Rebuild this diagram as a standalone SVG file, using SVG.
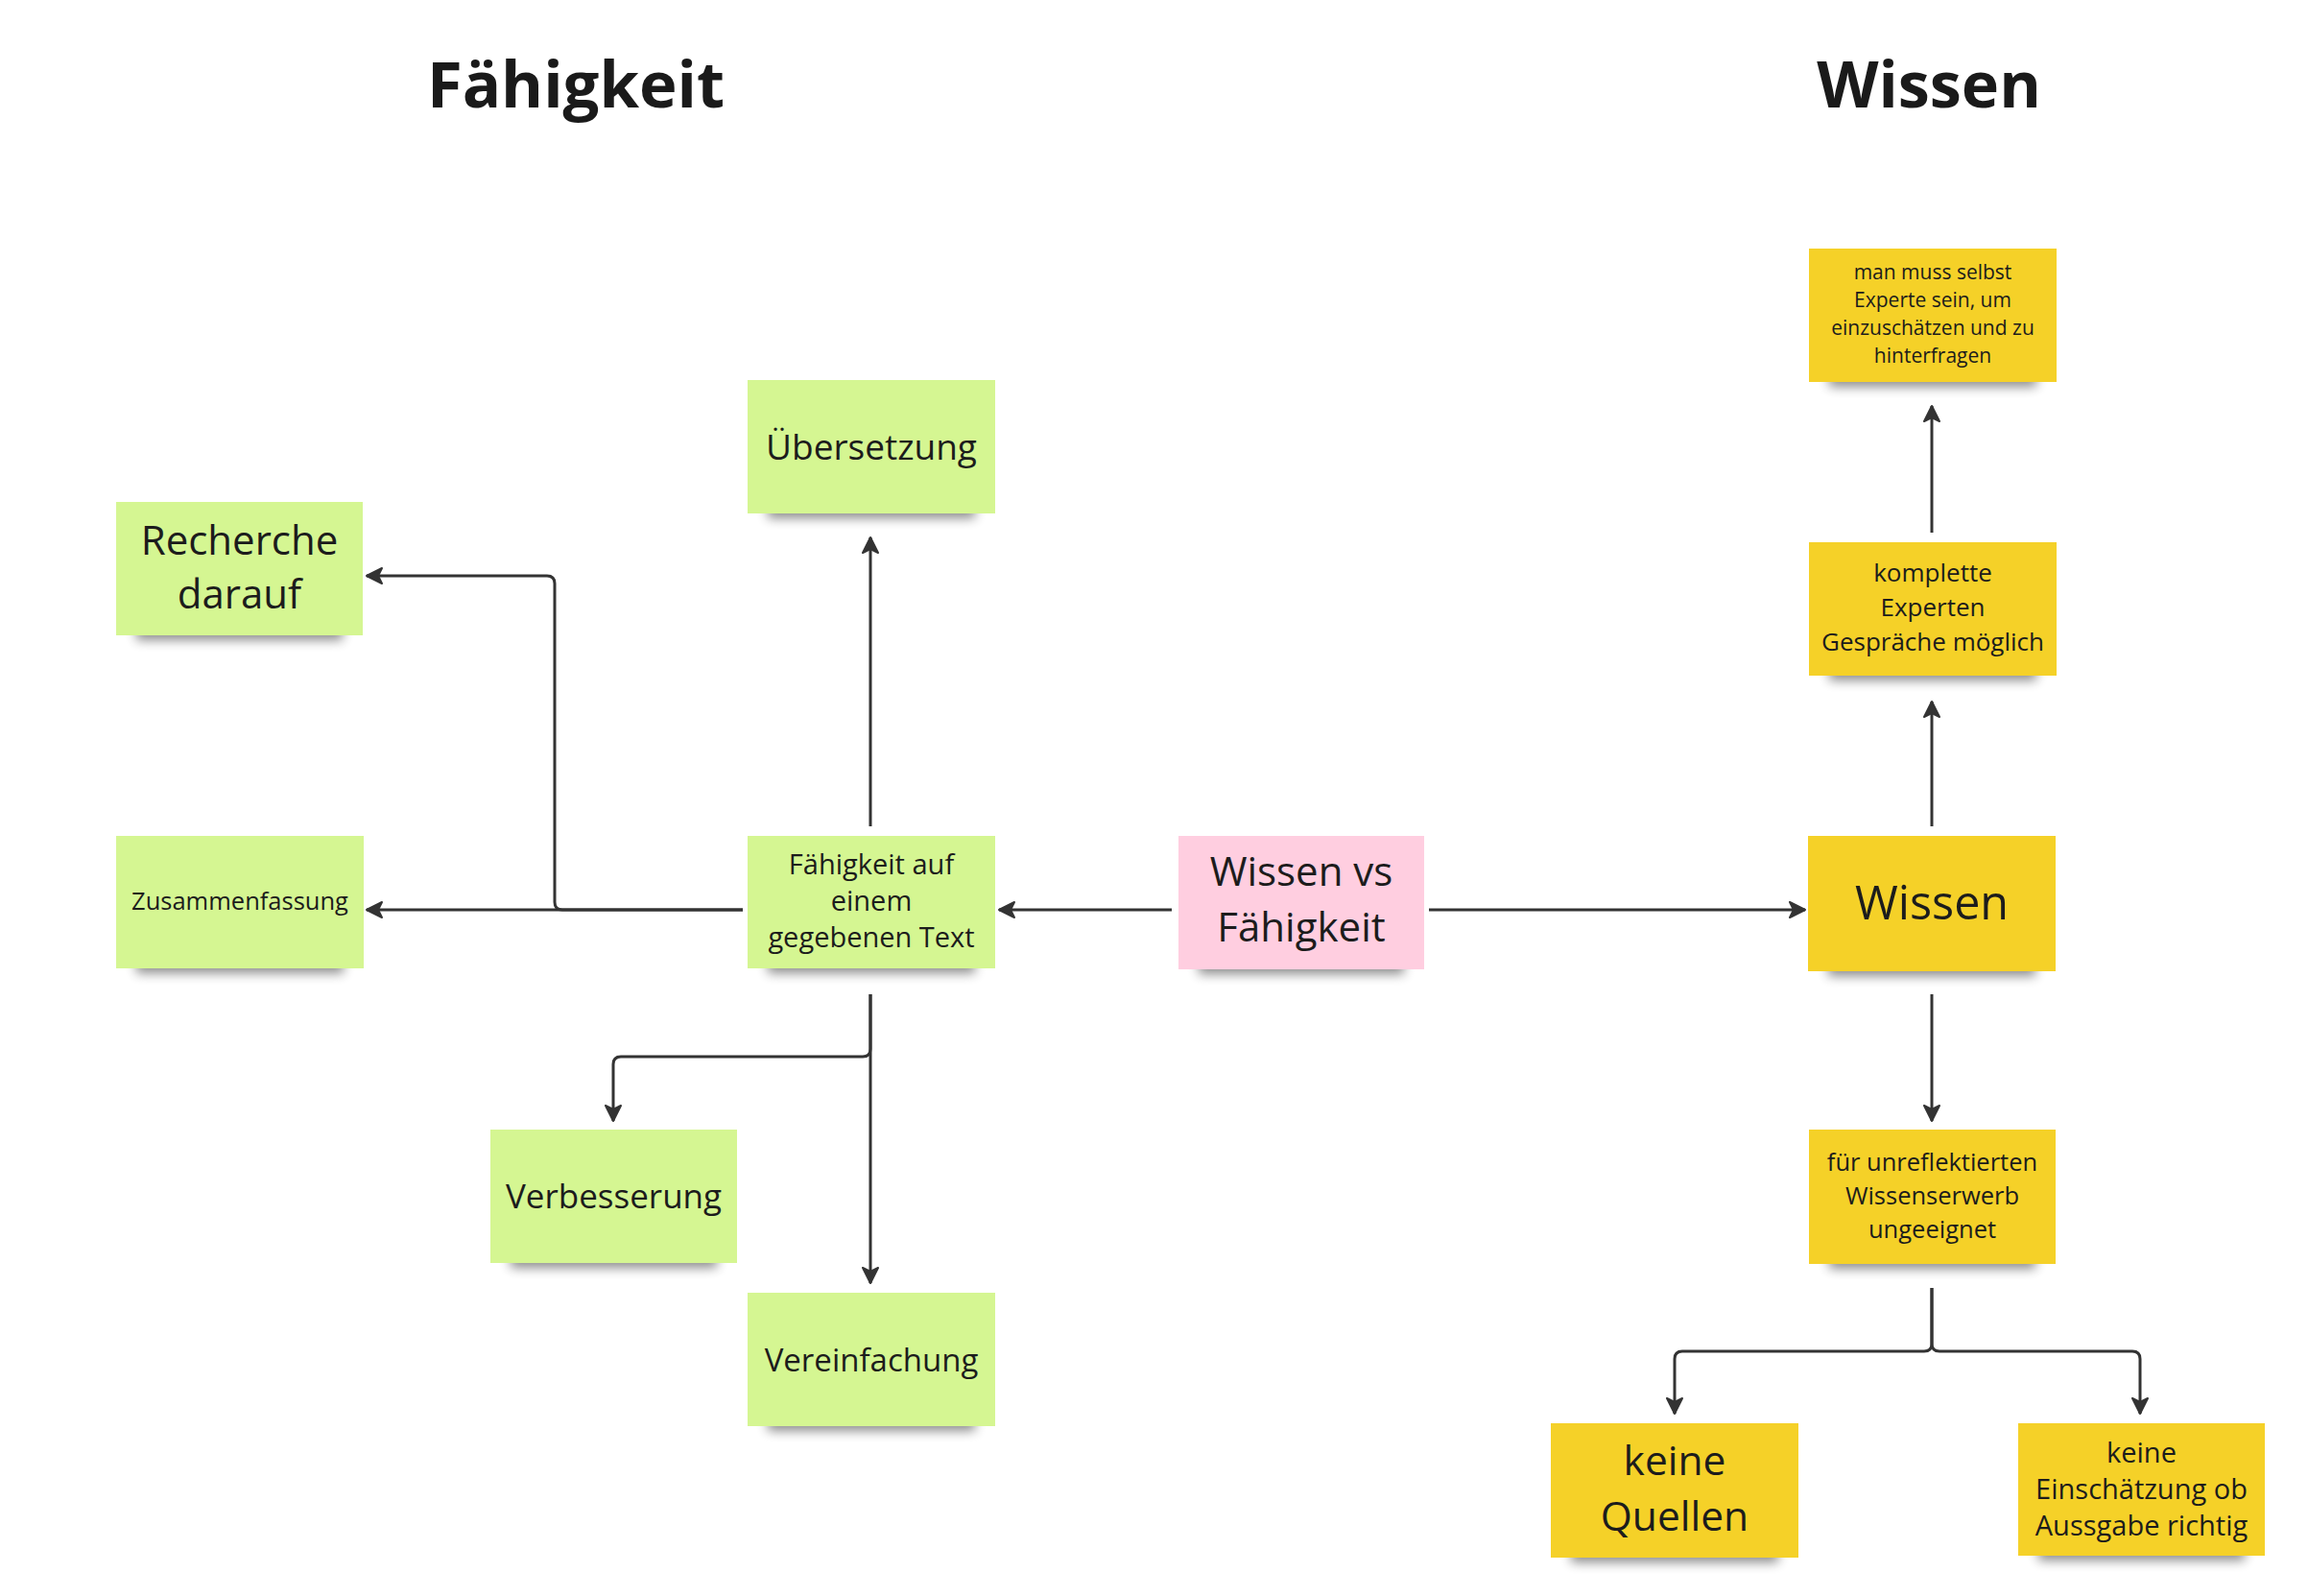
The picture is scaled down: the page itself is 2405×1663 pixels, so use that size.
<svg xmlns="http://www.w3.org/2000/svg" width="2405" height="1663" viewBox="0 0 2405 1663">
<style>
text{font-family:"Open Sans","Noto Sans","Liberation Sans",sans-serif;fill:#1c1c1c;text-anchor:middle}
.title{font-weight:700;font-size:67px;fill:#1a1a1a}
.green{fill:#d5f692}
.yellow{fill:#f5d128}
.pink{fill:#ffcee0}
.shadow{fill:#000;opacity:0.45;filter:url(#blur)}
.conn{fill:none;stroke:#333333;stroke-width:3;marker-end:url(#arrow)}
</style>
<defs>
<filter id="blur" x="-20%" y="-100%" width="140%" height="300%"><feGaussianBlur stdDeviation="6"/></filter>
<marker id="arrow" markerUnits="userSpaceOnUse" markerWidth="22" markerHeight="22" viewBox="0 0 22 22" refX="19" refY="11" orient="auto">
<path d="M3,3 L19,11 L3,19 L7,11 Z" fill="#333333" stroke="#333333" stroke-width="2" stroke-linejoin="round"/>
</marker>
</defs>
<rect width="2405" height="1663" fill="#ffffff"/>
<text class="title" x="600" y="112">Fähigkeit</text>
<text class="title" x="2010" y="112" style="font-size:66.5px">Wissen</text>

<g id="connectors">
<path class="conn" d="M1221,948 H1041"/>
<path class="conn" d="M1489,948 H1881"/>
<path class="conn" d="M774,948 H382"/>
<path class="conn" d="M774,948 H586 Q578,948 578,940 V608 Q578,600 570,600 H382"/>
<path class="conn" d="M907,861 V560"/>
<path class="conn" d="M907,1036 V1093 Q907,1101 899,1101 H647 Q639,1101 639,1109 V1168"/>
<path class="conn" d="M907,1036 V1337"/>
<path class="conn" d="M2013,861 V731"/>
<path class="conn" d="M2013,555 V423"/>
<path class="conn" d="M2013,1036 V1168"/>
<path class="conn" d="M2013,1342 V1400 Q2013,1408 2005,1408 H1753 Q1745,1408 1745,1416 V1473"/>
<path class="conn" d="M2013,1342 V1400 Q2013,1408 2021,1408 H2222 Q2230,1408 2230,1416 V1473"/>
</g>

<g id="uebersetzung">
<rect class="shadow" x="800" y="520" width="216" height="20"/>
<rect class="green" x="779" y="396" width="258" height="139"/>
<text x="908" y="479" font-size="37">Übersetzung</text>
</g>
<g id="recherche">
<rect class="shadow" x="142" y="647" width="215" height="20"/>
<rect class="green" x="121" y="523" width="257" height="139"/>
<text x="249.5" y="578" font-size="42">Recherche</text>
<text x="249.5" y="634" font-size="42">darauf</text>
</g>
<g id="zusammenfassung">
<rect class="shadow" x="142" y="994" width="216" height="20"/>
<rect class="green" x="121" y="871" width="258" height="138"/>
<text x="250" y="948" font-size="25.5">Zusammenfassung</text>
</g>
<g id="faehigkeit-text">
<rect class="shadow" x="800" y="994" width="216" height="20"/>
<rect class="green" x="779" y="871" width="258" height="138"/>
<text x="908" y="911" font-size="29">Fähigkeit auf</text>
<text x="908" y="949" font-size="29">einem</text>
<text x="908" y="987" font-size="29">gegebenen Text</text>
</g>
<g id="wissen-vs">
<rect class="shadow" x="1249" y="995" width="214" height="20"/>
<rect class="pink" x="1228" y="871" width="256" height="139"/>
<text x="1356" y="923" font-size="42">Wissen vs</text>
<text x="1356" y="981" font-size="42">Fähigkeit</text>
</g>
<g id="wissen">
<rect class="shadow" x="1905" y="997" width="216" height="20"/>
<rect class="yellow" x="1884" y="871" width="258" height="141"/>
<text x="2013" y="958" font-size="48.5">Wissen</text>
</g>
<g id="verbesserung">
<rect class="shadow" x="532" y="1301" width="215" height="20"/>
<rect class="green" x="511" y="1177" width="257" height="139"/>
<text x="639.5" y="1259" font-size="35">Verbesserung</text>
</g>
<g id="vereinfachung">
<rect class="shadow" x="800" y="1471" width="216" height="20"/>
<rect class="green" x="779" y="1347" width="258" height="139"/>
<text x="908" y="1429" font-size="33">Vereinfachung</text>
</g>
<g id="man-muss">
<rect class="shadow" x="1906" y="383" width="216" height="20"/>
<rect class="yellow" x="1885" y="259" width="258" height="139"/>
<text x="2014" y="291" font-size="21">man muss selbst</text>
<text x="2014" y="320" font-size="21">Experte sein, um</text>
<text x="2014" y="349" font-size="21">einzuschätzen und zu</text>
<text x="2014" y="378" font-size="21">hinterfragen</text>
</g>
<g id="komplette">
<rect class="shadow" x="1906" y="689" width="216" height="20"/>
<rect class="yellow" x="1885" y="565" width="258" height="139"/>
<text x="2014" y="606" font-size="26">komplette</text>
<text x="2014" y="642" font-size="26">Experten</text>
<text x="2014" y="678" font-size="26">Gespräche möglich</text>
</g>
<g id="fuer-unreflektierten">
<rect class="shadow" x="1906" y="1302" width="215" height="20"/>
<rect class="yellow" x="1885" y="1177" width="257" height="140"/>
<text x="2013.5" y="1220" font-size="25.5">für unreflektierten</text>
<text x="2013.5" y="1255" font-size="25.5">Wissenserwerb</text>
<text x="2013.5" y="1290" font-size="25.5">ungeeignet</text>
</g>
<g id="keine-quellen">
<rect class="shadow" x="1637" y="1608" width="216" height="20"/>
<rect class="yellow" x="1616" y="1483" width="258" height="140"/>
<text x="1745" y="1537" font-size="42.5">keine</text>
<text x="1745" y="1595" font-size="42.5">Quellen</text>
</g>
<g id="keine-einschaetzung">
<rect class="shadow" x="2124" y="1606" width="215" height="20"/>
<rect class="yellow" x="2103" y="1483" width="257" height="138"/>
<text x="2231.5" y="1524" font-size="29">keine</text>
<text x="2231.5" y="1562" font-size="29">Einschätzung ob</text>
<text x="2231.5" y="1600" font-size="29">Aussgabe richtig</text>
</g>
</svg>
